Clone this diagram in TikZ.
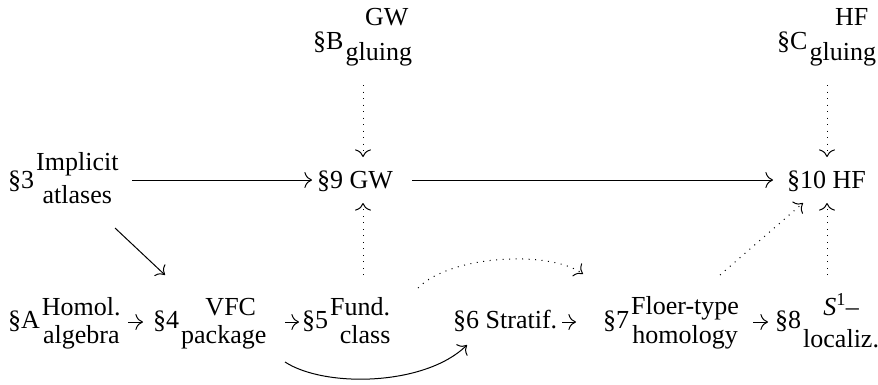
\documentclass[tikz,border=0pt]{standalone}
\usepackage{fontspec}
\setmainfont{Liberation Serif}
\usetikzlibrary{arrows.meta,calc}
\newlength\stkw
% #1 raise of top line, #2 drop of bottom line, #3 x-shift of top line, #4 x-shift of bottom line
\newcommand\stk[6]{\kern2pt\sbox0{#5}\sbox2{#6}%
  \ifdim\wd0>\wd2 \setlength\stkw{\wd0}\else\setlength\stkw{\wd2}\fi
  \makebox[\stkw]{\hspace*{#3}\raisebox{#1}{\usebox0}\hspace*{-#3}}\kern-\stkw
  \makebox[\stkw]{\hspace*{#4}\raisebox{-#2}{\usebox2}\hspace*{-#4}}}
\tikzset{
  cell/.style={font=\fontsize{26}{30}\selectfont, inner sep=0pt, anchor=base west},
  ar/.style={-{Computer Modern Rightarrow[scale=2]}, line width=1pt},
  dar/.style={ar, dash pattern=on 1pt off 5.5pt}
}
\begin{document}
\begin{tikzpicture}[x=1pt,y=-1pt]
\useasboundingbox (0,0) rectangle (878,384);
\node[cell] (nB) at (313,49) {\S B\stk{24pt}{11pt}{8pt}{0pt}{GW}{gluing}};
\node[cell] (nC) at (777,49) {\S C\stk{24pt}{11pt}{9pt}{0pt}{HF}{gluing}};
\node[cell] (n3) at (8,188) {\S 3\stk{18pt}{15pt}{0pt}{0pt}{Implicit}{atlases}};
\node[cell] (n9) at (317,188) {\S 9 GW};
\node[cell] (n10) at (787,188) {\S 10 HF};
\node[cell] (nA) at (8,328) {\S A\stk{13pt}{15pt}{0pt}{0pt}{Homol.}{algebra}};
\node[cell] (n4) at (153,328) {\S 4\stk{13pt}{15pt}{7pt}{0pt}{VFC}{package}};
\node[cell] (n5) at (302,328) {\S 5\stk{13pt}{15pt}{0pt}{5pt}{Fund.}{class}};
\node[cell] (n6) at (453,328) {\S 6 Stratif.};
\node[cell] (n7) at (603,328) {\S 7\stk{14pt}{15pt}{0pt}{0pt}{Floer-type}{homology}};
\node[cell] (n8) at (775,328) {\S 8\stk{13pt}{19pt}{0pt}{0pt}{\textit{S}\textsuperscript{1}–}{localiz.}};

\draw[ar] ($(n3.base west)+(124,-8)$) -- ($(n9.base west)+(-5,-8)$);
\draw[ar] ($(n9.base west)+(95,-8)$) -- ($(n10.base west)+(-14,-8)$);
\draw[dar] ($(nB.base west)+(50,36)$) -- ($(n9.base west)+(46,-31)$);
\draw[dar] ($(nC.base west)+(50,36)$) -- ($(n10.base west)+(40,-31)$);
\draw[ar] ($(n3.base west)+(107,40)$) -- ($(n4.base west)+(12,-53)$);
\draw[dar] ($(n5.base west)+(61,-53)$) -- ($(n9.base west)+(46,15)$);
\draw[ar] ($(nA.base west)+(120,-6)$) -- ($(n4.base west)+(-10,-6)$);
\draw[ar] ($(n4.base west)+(132,-6)$) -- ($(n5.base west)+(-3,-6)$);
\draw[ar] ($(n6.base west)+(109,-6)$) -- ($(n7.base west)+(-27,-6)$);
\draw[ar] ($(n7.base west)+(150,-6)$) -- ($(n8.base west)+(-7,-6)$);
\draw[ar] ($(n4.base west)+(132,34)$) .. controls ($(n4.base west)+(172,60)$) and ($(n6.base west)+(-28,58)$) .. ($(n6.base west)+(14,17)$);
\draw[dar] ($(n5.base west)+(116,-40)$) .. controls ($(n5.base west)+(148,-73)$) and ($(n7.base west)+(-53,-78)$) .. ($(n7.base west)+(-20,-54)$);
\draw[dar] ($(n7.base west)+(117,-53)$) -- ($(n10.base west)+(16,15)$);
\draw[dar] ($(n8.base west)+(52,-53)$) -- ($(n10.base west)+(40,15)$);
\end{tikzpicture}
\end{document}
